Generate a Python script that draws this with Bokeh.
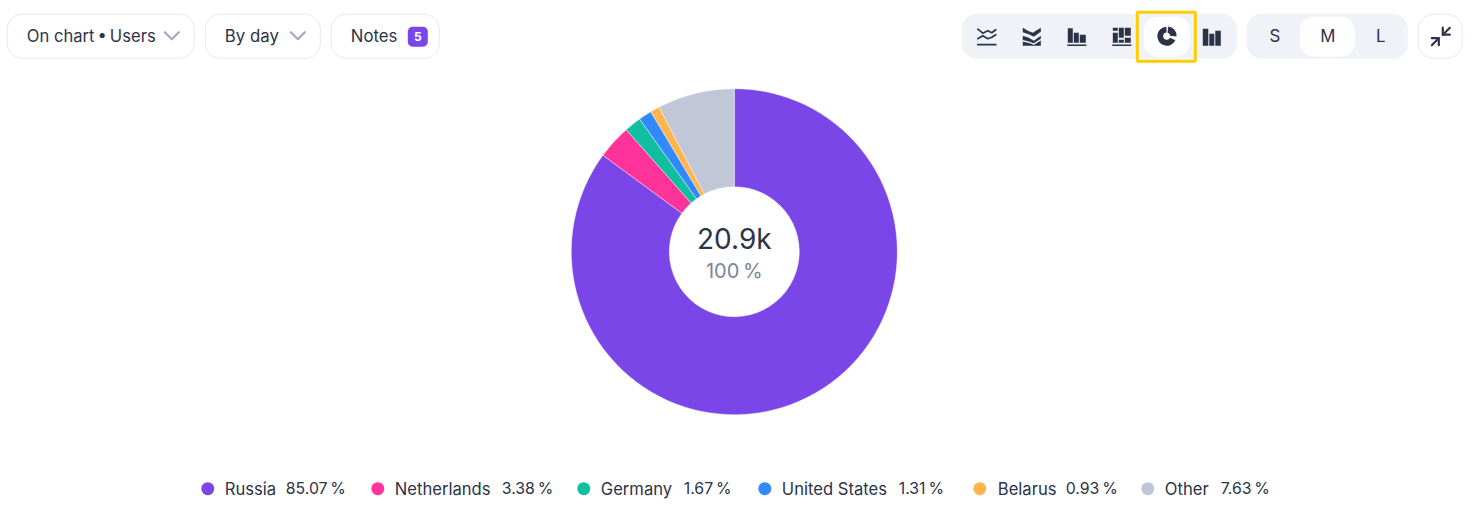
import numpy as np
from bokeh.plotting import figure
from bokeh.models import Range1d
from bokeh.core.properties import value
from bokeh.embed import file_html
from bokeh.resources import INLINE

countries = ["Russia", "Netherlands", "Germany", "United States", "Belarus", "Other"]
shares = [85.07, 3.38, 1.67, 1.31, 0.93, 7.63]
colors = ["#7b46e8", "#ff3399", "#10bfa0", "#3388ff", "#ffb44d", "#c1c7d6"]
total_label = "20.9k"
total_share = "100\u2009%"

label_x = [225, 395, 601, 782, 998, 1165]
pct_x = [286, 502, 684, 899, 1066, 1221]
dot_x = [208, 378, 584, 765, 980, 1148]

DARK = "#2c3347"
FONT = "Inter"

p = figure(width=1472, height=521, output_backend="svg", toolbar_location=None,
           x_range=Range1d(0.7, 1472.7), y_range=Range1d(521.8, 0.8), min_border=0)
p.axis.visible = False
p.grid.visible = False
p.outline_line_color = None
p.background_fill_color = "white"
p.border_fill_color = "white"


def rrect(x0, y0, x1, y1, r, fill="white", line=None, lw=1.0):
    a = np.linspace(0, np.pi / 2, 10)
    xs = np.concatenate([x1 - r + r * np.sin(a), x1 - r + r * np.cos(a),
                         x0 + r - r * np.sin(a), x0 + r - r * np.cos(a)])
    ys = np.concatenate([y0 + r - r * np.cos(a), y1 - r + r * np.sin(a),
                         y1 - r + r * np.cos(a), y0 + r - r * np.sin(a)])
    p.patch(xs, ys, fill_color=fill, line_color=line, line_width=lw,
            fill_alpha=1 if fill else 0)


def txt(x, y, s, size=16.8, color=DARK, align="left", font=FONT, style="normal"):
    p.text([x], [y], text=[s], text_font=value(font), text_font_size=f"{size}px",
           text_color=color, text_align=align, text_baseline="middle", text_font_style=style)


def poly(xs, ys, color=DARK):
    p.patch(xs, ys, fill_color=color, line_color=None)


def stroke(xs, ys, width=1.5, color=DARK):
    p.line(xs, ys, line_color=color, line_width=width, line_cap="round", line_join="round")


BORDER = "#e6e6f2"
rrect(7.5, 14.5, 194.5, 58.5, 15, "white", BORDER)
rrect(205.5, 14.5, 320.5, 58.5, 15, "white", BORDER)
rrect(331.5, 14.5, 439.5, 58.5, 15, "white", BORDER)
txt(27, 36, "On chart\u2009•\u2009Users", 16.6)
txt(225, 36, "By day")
txt(351, 36, "Notes")
for cx in (172, 298):
    stroke([cx - 7, cx, cx + 7], [32.5, 39.5, 32.5], 2.2, "#a4a9c0")
rrect(408, 27, 428, 47, 5, "#7b46e8")
txt(418, 36.5, "5", 12, "white", "center", style="bold")

# toolbar groups
rrect(962, 14, 1237, 59, 15, "#eff2f7")
rrect(1144, 17, 1190, 57, 14, "white")
rrect(1137.5, 12.5, 1195.5, 61.5, 1, None, "#ffcc00", 3)
rrect(1247, 14, 1408, 59, 15, "#eff2f7")
rrect(1300, 17, 1355, 57, 14, "white")
rrect(1418.5, 14.5, 1462.5, 58.5, 15, "white", BORDER)
txt(1275, 36, "S", 16.8, DARK, "center")
txt(1328, 36, "M", 16.8, DARK, "center")
txt(1381, 36, "L", 16.8, DARK, "center")

# icon 1: lines
cx = 987
stroke([cx - 9, cx - 4, cx + 1, cx + 5, cx + 9], [29.5, 33.5, 31, 33, 30], 1.7)
stroke([cx - 9, cx - 4, cx + 1, cx + 5, cx + 9], [39, 36, 39, 37.5, 35], 1.7)
stroke([cx - 9, cx + 9], [45, 45], 1.7)
# icon 2: stacked areas
cx = 1032
poly([cx - 9, cx - 4, cx + 1, cx + 9, cx + 9, cx + 2, cx - 3, cx - 9],
     [28, 31, 33, 28, 32, 37, 34.5, 32.5])
poly([cx - 9, cx - 3, cx + 2, cx + 9, cx + 9, cx - 9],
     [36, 38, 41, 36, 46, 46])
stroke([cx - 9, cx - 3, cx + 2, cx + 9], [41, 42.5, 44.5, 40], 1.4, "#eff2f7")
# icon 3: bars
cx = 1077
poly([cx - 9, cx - 4, cx - 4, cx - 9], [28.5, 28.5, 43, 43])
poly([cx - 3, cx + 2, cx + 2, cx - 3], [33, 33, 43, 43])
poly([cx + 3, cx + 9, cx + 9, cx + 3], [35, 35, 43, 43])
stroke([cx - 9, cx + 9], [45.5, 45.5], 1.5)
# icon 4: stacked bars
cx = 1122
poly([cx - 9, cx - 4, cx - 4, cx - 9], [33, 33, 43, 43])
poly([cx - 9, cx - 4, cx - 4, cx - 9], [28, 28, 31, 31])
poly([cx - 3, cx + 2, cx + 2, cx - 3], [28, 28, 38, 38])
poly([cx - 3, cx + 2, cx + 2, cx - 3], [40, 40, 43, 43])
poly([cx + 3, cx + 9, cx + 9, cx + 3], [28, 28, 36, 36])
poly([cx + 3, cx + 9, cx + 9, cx + 3], [38, 38, 43, 43])
stroke([cx - 9, cx + 9], [45.5, 45.5], 1.5)
# icon 5: donut
p.annular_wedge([1167], [36.5], inner_radius=3.6, outer_radius=9.5, start_angle=[1.62],
                end_angle=[-0.45], direction="anticlock", fill_color=DARK, line_color=None)
p.annular_wedge([1167.6], [35.9], inner_radius=2.5, outer_radius=9.2, start_angle=[1.48],
                end_angle=[-0.1], direction="clock", fill_color=DARK, line_color=None)
# icon 6: bars
cx = 1212
poly([cx - 9, cx - 3.5, cx - 3.5, cx - 9], [29, 29, 46, 46])
poly([cx - 2.5, cx + 2.5, cx + 2.5, cx - 2.5], [34, 34, 46, 46])
poly([cx + 3.5, cx + 9, cx + 9, cx + 3.5], [31, 31, 46, 46])
# collapse icon
stroke([1432, 1439], [45.5, 38.5], 2)
stroke([1432, 1439, 1439], [38.5, 38.5, 45.5], 2.2)
stroke([1443, 1450], [35, 28], 2)
stroke([1443, 1443, 1450], [28, 35, 35], 2.2)

# pie
arr = np.array(shares)
frac = arr / arr.sum()
cum = np.concatenate([[0], np.cumsum(frac)])
PX, PY, R0, R1 = 734.5, 252, 65, 163
p.annular_wedge(x=[PX] * len(arr), y=[PY] * len(arr), inner_radius=R0, outer_radius=R1,
                start_angle=np.pi / 2 - 2 * np.pi * cum[:-1],
                end_angle=np.pi / 2 - 2 * np.pi * cum[1:],
                direction="clock", fill_color=colors, line_color="white", line_width=0.4)
txt(PX, 239.5, total_label, 28, DARK, "center")
txt(PX, 271.5, total_share, 20, "#7b849c", "center")

# legend
p.scatter(dot_x, [489] * 6, size=13, marker="circle", fill_color=colors, line_color=None)
for i, c in enumerate(countries):
    txt(label_x[i], 489, c, 16.6)
    txt(pct_x[i], 489, f"{shares[i]:.2f}\u2009%", 15.8)

open("out.html", "w").write(file_html(p, INLINE))
